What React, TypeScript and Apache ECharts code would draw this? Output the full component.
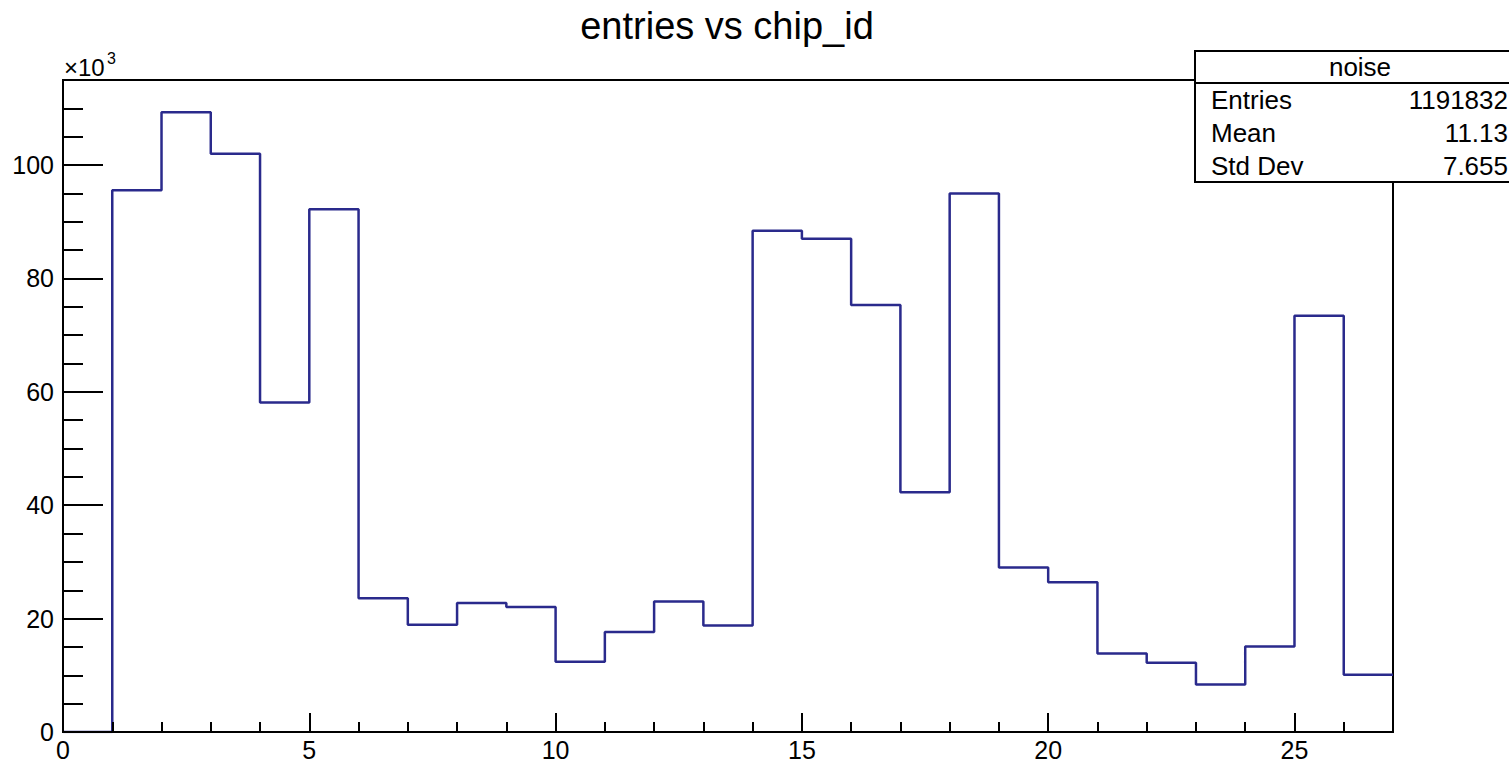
import React, { useEffect, useRef } from "react";
import * as echarts from "echarts";

const titleText = "entries vs chip_id";
const statsTitle = "noise";
const statsLabels = ["Entries", "Mean", "Std Dev"];
const statsValues = ["1191832", "11.13", "7.655"];
// bin lower edges (chip_id) and entries per bin, in units of 10^3
const binEdges = [0, 1, 2, 3, 4, 5, 6, 7, 8, 9, 10, 11, 12, 13, 14, 15, 16, 17, 18, 19, 20, 21, 22, 23, 24, 25, 26];
const binWidth = 1;
const entriesK = [
  0, 95.55, 109.3, 102.0, 58.1, 92.2, 23.6, 18.9, 22.75, 22.05, 12.4, 17.65, 23.0,
  18.8, 88.4, 87.0, 75.3, 42.3, 95.0, 29.0, 26.4, 13.85, 12.2, 8.4, 15.1, 73.4, 10.1,
];
const xMin = 0;
const xMax = 27;
const yMin = 0;
const yMax = 115;

const FONT = "Liberation Sans, Arial, Helvetica, sans-serif";
const LINE_COLOR = "#2a2a8c";

export default function App() {
  const ref = useRef<HTMLDivElement>(null);
  useEffect(() => {
    if (!ref.current) return;
    const chart = echarts.init(ref.current, null, { renderer: "svg" });
    const stepData: [number, number][] = [];
    binEdges.forEach((e, i) => {
      stepData.push([e, entriesK[i]]);
      stepData.push([e + binWidth, entriesK[i]]);
    });

    const boxX = 1195;
    const boxY = 51;
    const boxW = 320;
    const headH = 32;
    const rowH = 33;

    const statTexts: any[] = [];
    statsLabels.forEach((l, i) => {
      const cy = boxY + headH + rowH * i + rowH / 2;
      statTexts.push({
        type: "text",
        x: boxX + 16,
        y: cy,
        style: { text: l, font: `26px ${FONT}`, fill: "#000", textAlign: "left", textVerticalAlign: "middle" },
      });
      statTexts.push({
        type: "text",
        x: 1508,
        y: cy,
        style: { text: statsValues[i], font: `26px ${FONT}`, fill: "#000", textAlign: "right", textVerticalAlign: "middle" },
      });
    });

    chart.setOption({
      animation: false,
      backgroundColor: "#fff",
      grid: {
        left: 63,
        right: 116,
        top: 80,
        bottom: 29,
        show: true,
        borderColor: "#000",
        borderWidth: 2,
        backgroundColor: "#fff",
      },
      xAxis: [
        {
          type: "value",
          min: xMin,
          max: xMax,
          interval: 5,
          position: "bottom",
          z: 10,
          axisLine: { show: true, onZero: false, lineStyle: { color: "#000", width: 2 } },
          axisTick: { show: true, inside: true, length: 19, lineStyle: { color: "#000", width: 2 } },
          axisLabel: {
            show: true,
            color: "#000",
            fontSize: 25,
            fontFamily: FONT,
            margin: 5,
            formatter: (v: number) => (v % 5 === 0 ? String(v) : ""),
          },
          splitLine: { show: false },
        },
        {
          type: "value",
          min: xMin,
          max: xMax,
          interval: 1,
          position: "bottom",
          z: 10,
          axisLine: { show: false, onZero: false },
          axisTick: { show: true, inside: true, length: 10, lineStyle: { color: "#000", width: 2 } },
          axisLabel: { show: false },
          splitLine: { show: false },
        },
      ],
      yAxis: [
        {
          type: "value",
          min: yMin,
          max: yMax,
          interval: 20,
          position: "left",
          z: 10,
          axisLine: { show: true, onZero: false, lineStyle: { color: "#000", width: 2 } },
          axisTick: { show: true, inside: true, length: 40, lineStyle: { color: "#000", width: 2 } },
          axisLabel: {
            show: true,
            color: "#000",
            fontSize: 25,
            fontFamily: FONT,
            margin: 9,
            formatter: (v: number) => (v % 20 === 0 && v <= 100 ? String(v) : ""),
          },
          splitLine: { show: false },
        },
        {
          type: "value",
          min: yMin,
          max: yMax,
          interval: 5,
          position: "left",
          z: 10,
          axisLine: { show: false, onZero: false },
          axisTick: { show: true, inside: true, length: 20, lineStyle: { color: "#000", width: 2 } },
          axisLabel: { show: false },
          splitLine: { show: false },
        },
      ],
      series: [
        {
          type: "line",
          xAxisIndex: 0,
          yAxisIndex: 0,
          data: stepData,
          showSymbol: false,
          symbol: "none",
          lineStyle: { color: LINE_COLOR, width: 2.5 },
          z: 3,
        },
      ],
      graphic: [
        {
          type: "text",
          x: 727,
          y: 7,
          style: { text: titleText, font: `38px ${FONT}`, fill: "#000", textAlign: "center", textVerticalAlign: "top" },
        },
        {
          type: "text",
          x: 64,
          y: 55,
          style: { text: "×10", font: `24px ${FONT}`, fill: "#000", textAlign: "left", textVerticalAlign: "top" },
        },
        {
          type: "text",
          x: 107,
          y: 50,
          style: { text: "3", font: `16px ${FONT}`, fill: "#000", textAlign: "left", textVerticalAlign: "top" },
        },
        {
          type: "group",
          z: 100,
          children: [
            {
              type: "rect",
              shape: { x: boxX, y: boxY, width: boxW, height: headH + rowH * 3 },
              style: { fill: "#fff", stroke: "#000", lineWidth: 2 },
            },
            {
              type: "line",
              shape: { x1: boxX, y1: boxY + headH, x2: boxX + boxW, y2: boxY + headH },
              style: { stroke: "#000", lineWidth: 2 },
            },
            {
              type: "text",
              x: 1360,
              y: boxY + headH / 2,
              style: { text: statsTitle, font: `26px ${FONT}`, fill: "#000", textAlign: "center", textVerticalAlign: "middle" },
            },
            ...statTexts,
          ],
        },
      ],
    });
    return () => chart.dispose();
  }, []);
  return (
    <div
      ref={ref}
      style={{ position: "fixed", left: 0, top: 0, width: "1509px", height: "762px", background: "#fff" }}
    />
  );
}
